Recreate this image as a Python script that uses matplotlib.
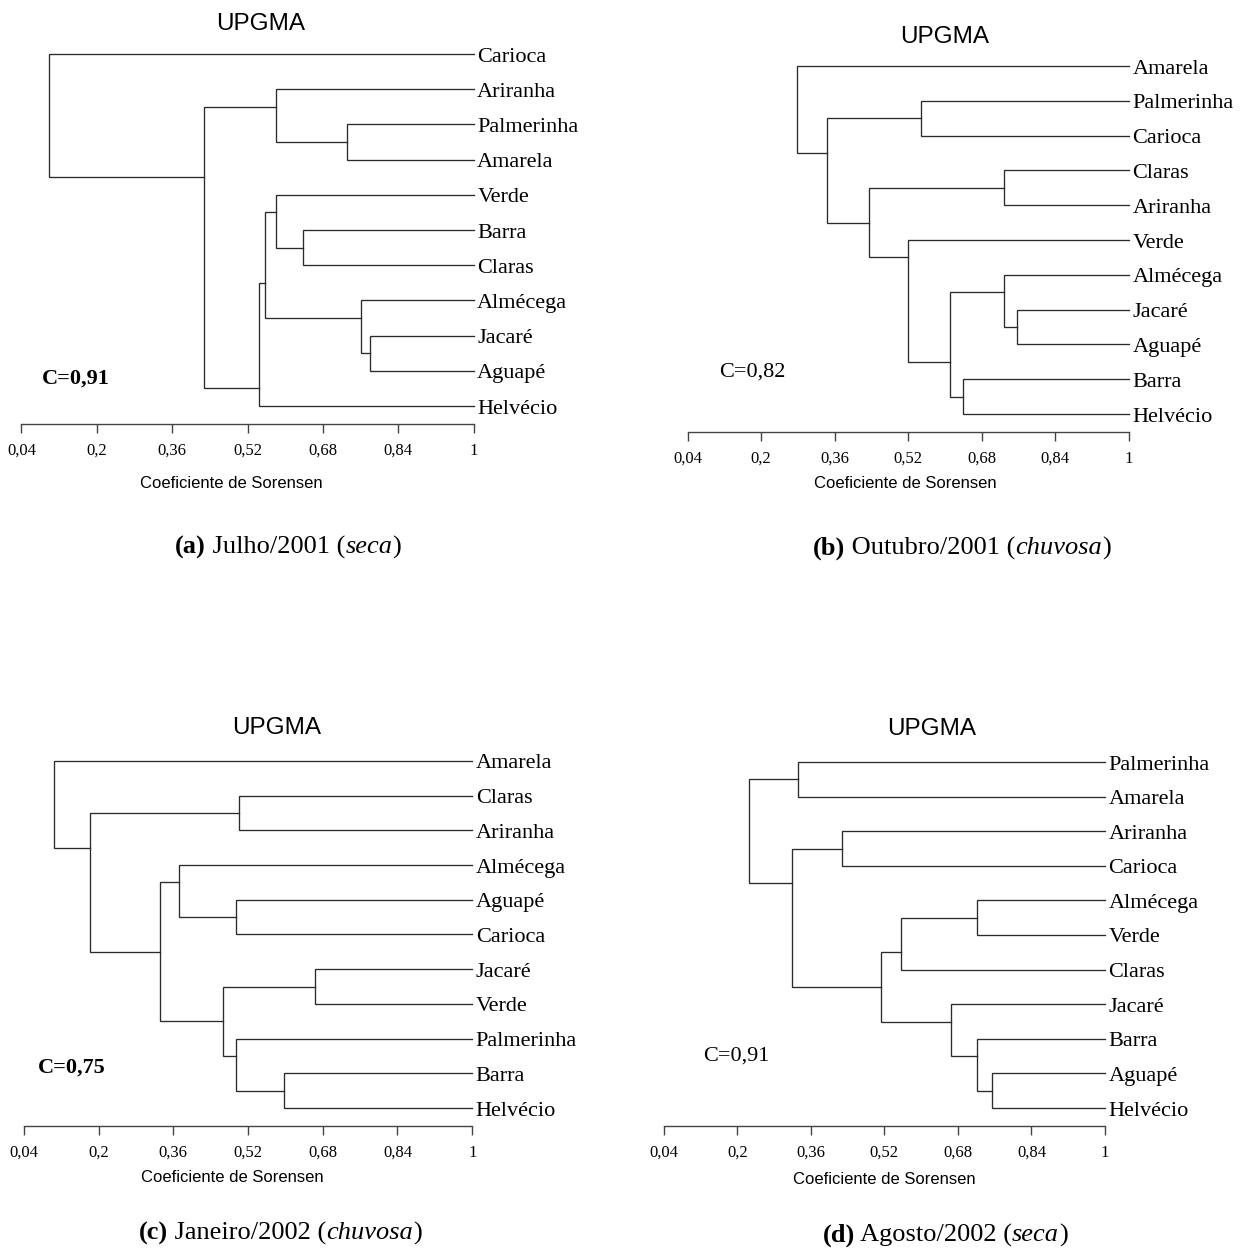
import matplotlib
matplotlib.use("Agg")
import matplotlib.pyplot as plt

W, H = 1247, 1254
SERIF = "Liberation Serif"
SANS = "Liberation Sans"
LINE = "#2b2b2b"

tick_values = [0.04, 0.2, 0.36, 0.52, 0.68, 0.84, 1.0]
tick_labels = ["0,04", "0,2", "0,36", "0,52", "0,68", "0,84", "1"]

# (a) Julho/2001 -- leaves top to bottom, merges as (upper, lower, similarity)
leaves_a = ["Carioca", "Ariranha", "Palmerinha", "Amarela", "Verde", "Barra",
            "Claras", "Almécega", "Jacaré", "Aguapé", "Helvécio"]
merges_a = [(2, 3, 0.730), (1, 11, 0.580), (5, 6, 0.638), (4, 13, 0.580),
            (8, 9, 0.780), (7, 15, 0.761), (14, 16, 0.557), (17, 10, 0.544),
            (12, 18, 0.427), (0, 19, 0.099)]
coph_a = "C=0,91"

# (b) Outubro/2001
leaves_b = ["Amarela", "Palmerinha", "Carioca", "Claras", "Ariranha", "Verde",
            "Almécega", "Jacaré", "Aguapé", "Barra", "Helvécio"]
merges_b = [(1, 2, 0.548), (3, 4, 0.728), (7, 8, 0.757), (6, 13, 0.728),
            (9, 10, 0.638), (14, 15, 0.610), (5, 16, 0.519), (12, 17, 0.434),
            (11, 18, 0.343), (0, 19, 0.277)]
coph_b = "C=0,82"

# (c) Janeiro/2002
leaves_c = ["Amarela", "Claras", "Ariranha", "Almécega", "Aguapé", "Carioca",
            "Jacaré", "Verde", "Palmerinha", "Barra", "Helvécio"]
merges_c = [(1, 2, 0.500), (4, 5, 0.495), (3, 12, 0.373), (6, 7, 0.664),
            (9, 10, 0.598), (8, 15, 0.495), (14, 16, 0.466), (13, 17, 0.331),
            (11, 18, 0.181), (0, 19, 0.105)]
coph_c = "C=0,75"

# (d) Agosto/2002
leaves_d = ["Palmerinha", "Amarela", "Ariranha", "Carioca", "Almécega", "Verde",
            "Claras", "Jacaré", "Barra", "Aguapé", "Helvécio"]
merges_d = [(0, 1, 0.333), (2, 3, 0.427), (4, 5, 0.721), (13, 6, 0.556),
            (9, 10, 0.754), (8, 15, 0.721), (7, 16, 0.664), (14, 17, 0.513),
            (12, 18, 0.319), (11, 19, 0.225)]
coph_d = "C=0,91"

captions = [
    [("(a)", "bold", "normal"), (" Julho/2001 (", "normal", "normal"), ("seca", "normal", "italic"), (")", "normal", "normal")],
    [("(b)", "bold", "normal"), (" Outubro/2001 (", "normal", "normal"), ("chuvosa", "normal", "italic"), (")", "normal", "normal")],
    [("(c)", "bold", "normal"), (" Janeiro/2002 (", "normal", "normal"), ("chuvosa", "normal", "italic"), (")", "normal", "normal")],
    [("(d)", "bold", "normal"), (" Agosto/2002 (", "normal", "normal"), ("seca", "normal", "italic"), (")", "normal", "normal")],
]

# layout in pixels: axis x0/x1, first/last leaf y, axis y, title, C text, xlabel, caption
panels = [
    dict(leaves=leaves_a, merges=merges_a, coph=coph_a, cbold=True,
         x0=21.4, x1=473.8, yf=54, yl=406, ya=424,
         title=(261, 24), c=(42, 379), xl=(231, 484), cap=(288, 547)),
    dict(leaves=leaves_b, merges=merges_b, coph=coph_b, cbold=False,
         x0=687.6, x1=1129, yf=66, yl=414, ya=432,
         title=(945, 37), c=(719, 372), xl=(905, 483), cap=(962, 548)),
    dict(leaves=leaves_c, merges=merges_c, coph=coph_c, cbold=True,
         x0=23.8, x1=472.2, yf=761, yl=1108, ya=1126,
         title=(277, 728), c=(38, 1068), xl=(232, 1178), cap=(280, 1233)),
    dict(leaves=leaves_d, merges=merges_d, coph=coph_d, cbold=False,
         x0=663.7, x1=1105, yf=762, yl=1108, ya=1126,
         title=(932, 729), c=(703, 1056), xl=(884, 1179), cap=(945, 1235)),
]

fig = plt.figure(figsize=(W / 100, H / 100), dpi=100)
fig.patch.set_facecolor("white")


def draw_tree(ax, leaves, merges):
    n = len(leaves)
    xs = [1.0] * n
    ys = list(range(n))
    last = list(range(n))
    for up, low, sim in merges:
        ax.plot([xs[up], sim, sim, xs[low]], [ys[up], ys[up], ys[low], ys[low]],
                color=LINE, lw=0.95, solid_joinstyle="miter", clip_on=False)
        xs.append(sim)
        ys.append(last[up] + 0.5)
        last.append(last[low])
    for i, name in enumerate(leaves):
        ax.annotate(name, (1.0, i), xytext=(2.5, -5.4), textcoords="offset points",
                    va="baseline", ha="left", fontsize=16, family=SERIF,
                    annotation_clip=False)


def caption(cx, cy, parts):
    r = fig.canvas.get_renderer()
    texts = [fig.text(0, 1 - cy / H, s, fontsize=19, fontweight=w, fontstyle=st,
                      family=SERIF, va="center") for s, w, st in parts]
    widths = [t.get_window_extent(r).width for t in texts]
    x = cx - sum(widths) / 2
    for t, w in zip(texts, widths):
        t.set_x(x / W)
        x += w


for p in panels:
    s = (p["yl"] - p["yf"]) / 10
    top = p["yf"] - 0.6 * s
    ax = fig.add_axes([p["x0"] / W, 1 - p["ya"] / H, (p["x1"] - p["x0"]) / W, (p["ya"] - top) / H])
    ax.set_xlim(0.04, 1.0)
    ax.set_ylim(10 + (p["ya"] - p["yl"]) / s, -0.6)
    for side in ("left", "top", "right"):
        ax.spines[side].set_visible(False)
    ax.spines["bottom"].set_color("#444444")
    ax.spines["bottom"].set_linewidth(1.0)
    ax.set_yticks([])
    ax.set_xticks(tick_values, tick_labels)
    ax.tick_params(axis="x", direction="out", length=6.5, width=1.0, color="#444444", pad=7)
    for lab in ax.get_xticklabels():
        lab.set_fontfamily(SERIF)
        lab.set_fontsize(12)
    ax.patch.set_alpha(0)
    draw_tree(ax, p["leaves"], p["merges"])

    fig.text(p["title"][0] / W, 1 - p["title"][1] / H, "UPGMA", ha="center", va="center",
             fontsize=17.5, family=SANS)
    fig.text(p["c"][0] / W, 1 - p["c"][1] / H, p["coph"], ha="left", va="center",
             fontsize=16, family=SERIF, fontweight="bold" if p["cbold"] else "normal")
    fig.text(p["xl"][0] / W, 1 - p["xl"][1] / H, "Coeficiente de Sorensen", ha="center",
             va="center", fontsize=12, family=SANS)

for p, parts in zip(panels, captions):
    caption(p["cap"][0], p["cap"][1], parts)

fig.savefig("out.png", dpi=100, facecolor="white")
